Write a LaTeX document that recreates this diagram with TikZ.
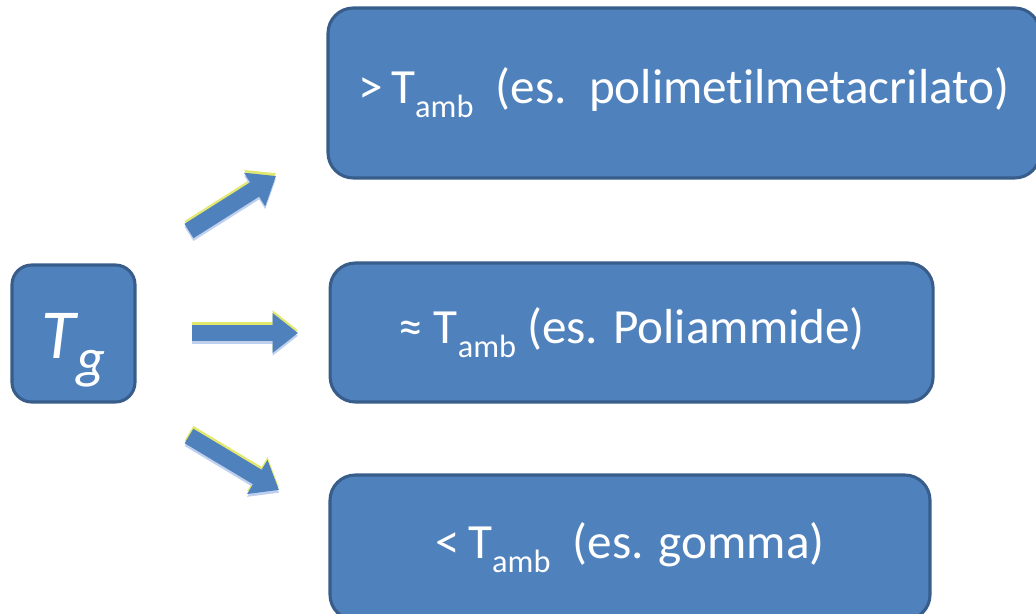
\documentclass[tikz,border=0pt]{standalone}
\usepackage{fontspec}
\setmainfont[Ligatures=NoCommon]{Carlito}
\usepackage{tikz}
\usetikzlibrary{arrows.meta}

\definecolor{boxblue}{RGB}{79,129,189}
\definecolor{boxedge}{RGB}{56,93,138}
\definecolor{glowyel}{RGB}{226,232,110}
\definecolor{glowblu}{RGB}{190,208,238}

\newcommand{\Tamb}{T\raisebox{-0.28em}{\fontsize{23}{25}\selectfont amb}}

\tikzset{
  box/.style = {draw=boxedge, line width=2.2pt, fill=boxblue, rounded corners=18pt,
                text=white, font=\fontsize{35}{42}\selectfont, inner sep=0pt},
  bigarrow/.style = {line width=12pt, -{Triangle[length=18pt,width=27pt]}},
}

\begin{document}
\begin{tikzpicture}
\useasboundingbox (0,0) rectangle (25.9,15.325);
\clip (0,0) rectangle (25.9,15.325);

\node[box, rounded corners=14pt, minimum width=3.075cm, minimum height=3.425cm] (Tg) at (1.8375,6.9875)
  {\raisebox{-18pt}[0pt][0pt]{\fontsize{50}{60}\selectfont\itshape T\kern1pt\raisebox{-0.26em}{\fontsize{40}{44}\selectfont g}}};

\node[box, minimum width=17.8cm, minimum height=4.25cm] (high) at (17.1,13.0)
  {>\,\Tamb\ \ (es.\ \ polimetilmetacrilato)};
\node[box, minimum width=15.075cm, minimum height=3.475cm] (mid) at (15.79,7.0125)
  {≈ \Tamb\ (es. Poliammide)};
\node[box, minimum width=15cm, minimum height=3.625cm] (low) at (15.75,1.6375)
  {<\,\Tamb\ \ (es. gomma)};

% arrow ends
\coordinate (upS) at (4.725,9.55);
\coordinate (upE) at (6.9,10.925);
\coordinate (midS) at (4.8,7.0);
\coordinate (midE) at (7.45,7.0);
\coordinate (lowS) at (4.725,4.425);
\coordinate (lowE) at (6.975,3.075);

\foreach \s/\e in {upS/upE, midS/midE, lowS/lowE} {
  \draw[bigarrow, glowyel, transform canvas={yshift=2pt}] (\s) -- (\e);
  \draw[bigarrow, glowblu, transform canvas={yshift=-2pt}] (\s) -- (\e);
  \draw[bigarrow, boxblue] (\s) -- (\e);
}
\end{tikzpicture}
\end{document}
